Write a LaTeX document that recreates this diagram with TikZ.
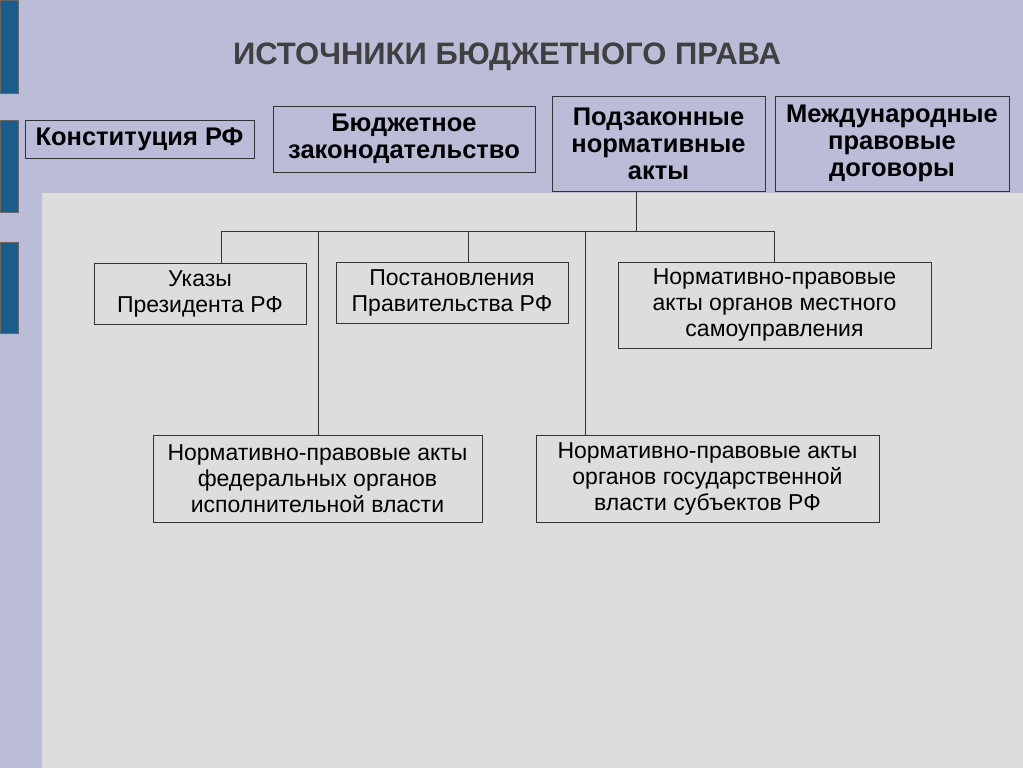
\documentclass[tikz,border=0pt]{standalone}
\usepackage{fontspec}
\setmainfont{Liberation Sans}
\begin{document}
\begin{tikzpicture}[x=1pt,y=-1pt,
  top/.style={draw=black!80,line width=0.8pt,fill=bgc,font=\bfseries\fontsize{25.5}{27}\selectfont,align=center,inner sep=0pt},
  low/.style={draw=black!80,line width=0.8pt,fill=panel,font=\fontsize{23}{26}\selectfont,align=center,inner sep=0pt},
  ln/.style={draw=black!80,line width=0.8pt},
  bar/.style={fill=barc,draw=black!60,line width=0.6pt}]
\definecolor{bgc}{HTML}{BABCD8}
\definecolor{panel}{HTML}{DDDDDD}
\definecolor{barc}{HTML}{1A5C8A}
\fill[bgc] (0,0) rectangle (1023,768);
\useasboundingbox (0,0) rectangle (1023,768);
\fill[panel] (42,193) rectangle (1023,768);
\draw[bar] (0,0) rectangle (18,93);
\draw[bar] (0,120) rectangle (18,212);
\draw[bar] (0,242) rectangle (18,333);
\node[font=\bfseries\fontsize{31}{34}\selectfont,text=black!75] (title) at (507,57) {ИСТОЧНИКИ БЮДЖЕТНОГО ПРАВА};
\node[top,minimum width=229,minimum height=38] (k) at (139.5,139) {Конституция РФ};
\node[top,minimum width=262,minimum height=66] (b) at (404,139) {Бюджетное\\законодательство};
\node[top,minimum width=213,minimum height=95] (p) at (658.5,143.5) {Подзаконные\\нормативные\\акты};
\node[top,minimum width=234,minimum height=95] (m) at (892,143.5) {Международные\\правовые\\договоры};
\node[low,minimum width=212,minimum height=61] (u) at (200,293.5) {Указы\\Президента РФ};
\node[low,minimum width=232,minimum height=61] (s) at (452,292.5) {Постановления\\Правительства РФ};
\node[low,minimum width=313,minimum height=86] (l) at (774.5,305) {Нормативно-правовые\\акты органов местного\\самоуправления};
\node[low,minimum width=329,minimum height=87] (f) at (317.5,478.5) {Нормативно-правовые акты\\федеральных органов\\исполнительной власти};
\node[low,minimum width=343,minimum height=87] (r) at (707.5,478.5) {Нормативно-правовые акты\\органов государственной\\власти субъектов РФ};
\coordinate (j) at (636,231);
\draw[ln] (636,191) -- (j);
\draw[ln] (221,231) -- (774,231);
\draw[ln] (221,231) -- (221,263);
\draw[ln] (318,231) -- (f.north -| 318,0);
\draw[ln] (468,231) -- (s.north -| 468,0);
\draw[ln] (585,231) -- (r.north -| 585,0);
\draw[ln] (774,231) -- (l.north -| 774,0);
\end{tikzpicture}
\end{document}
